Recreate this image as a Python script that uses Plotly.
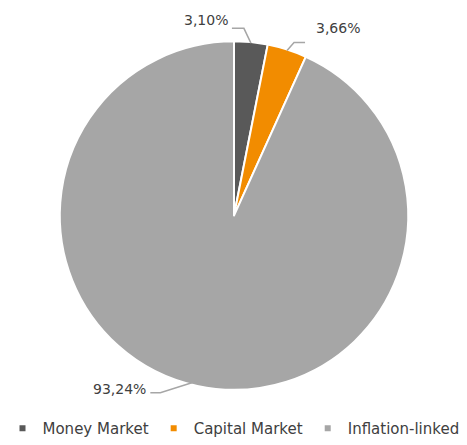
import math
import plotly.graph_objects as go

labels = ["Money Market", "Capital Market", "Inflation-linked"]
values = [3.10, 3.66, 93.24]
text_labels = ["3,10%", "3,66%", "93,24%"]
colors = ["#595959", "#F28C00", "#A6A6A6"]

W, H = 467, 445
cx, cy, r = 234, 217, 174  # pie centre / radius in px
rd = 177  # domain half-size (plotly draws the pie a touch smaller)

font = "Century Gothic, DejaVu Sans, sans-serif"
txt_col = "#404040"

fig = go.Figure()
fig.add_trace(go.Pie(
    labels=labels, values=values, sort=False, direction="clockwise", rotation=0,
    marker=dict(colors=colors, line=dict(color="white", width=2)),
    textinfo="none", hoverinfo="label+percent", showlegend=False,
    domain=dict(x=[(cx - rd) / W, (cx + rd) / W], y=[1 - (cy + 2 + rd) / H, 1 - (cy + 2 - rd) / H]),
))

# legend swatches: small squares
for lab, col in zip(labels, colors):
    fig.add_trace(go.Scatter(x=[None], y=[None], mode="markers", name=lab,
                             marker=dict(symbol="square", size=6, color=col)))

# leader lines + labels, anchored on slice mid angles
# (elbow dx, elbow dy, horizontal dx, text xanchor, text xshift, text yshift)
leader = [(-7, -15, -12, "right", -2, 8),
          (7, -8, 11, "left", 9, 15),
          (-37, 12, -10, "right", -2, 4)]
total = sum(values)
cum = 0
shapes, annos = [], []
for v, t, (ex, ey, hx, anc, xs, ys) in zip(values, text_labels, leader):
    mid = (cum + v / 2) / total * 2 * math.pi
    cum += v
    px0 = cx + r * math.sin(mid)
    py0 = cy - r * math.cos(mid)
    px1, py1 = px0 + ex, py0 + ey
    px2 = px1 + hx
    pts = [(px0, py0), (px1, py1), (px2, py1)]
    path = "M " + " L ".join(f"{x / W},{1 - y / H}" for x, y in pts)
    shapes.append(dict(type="path", path=path, xref="paper", yref="paper",
                       line=dict(color="#A6A6A6", width=1.5)))
    annos.append(dict(x=px2 / W, y=1 - py1 / H, xref="paper", yref="paper", text=t,
                      showarrow=False, xanchor=anc, yanchor="middle", xshift=xs, yshift=ys,
                      font=dict(family=font, size=14, color=txt_col)))

fig.update_layout(
    width=W, height=H, margin=dict(l=0, r=0, t=0, b=0),
    paper_bgcolor="white", plot_bgcolor="white",
    xaxis=dict(visible=False), yaxis=dict(visible=False),
    shapes=shapes, annotations=annos,
    legend=dict(orientation="h", x=0.5, xanchor="center", y=-0.016, yanchor="bottom",
                font=dict(family=font, size=15, color=txt_col), itemwidth=30),
)

fig.write_html("out.html", config={"displayModeBar": False},
               post_script="document.body.style.margin='0';")
